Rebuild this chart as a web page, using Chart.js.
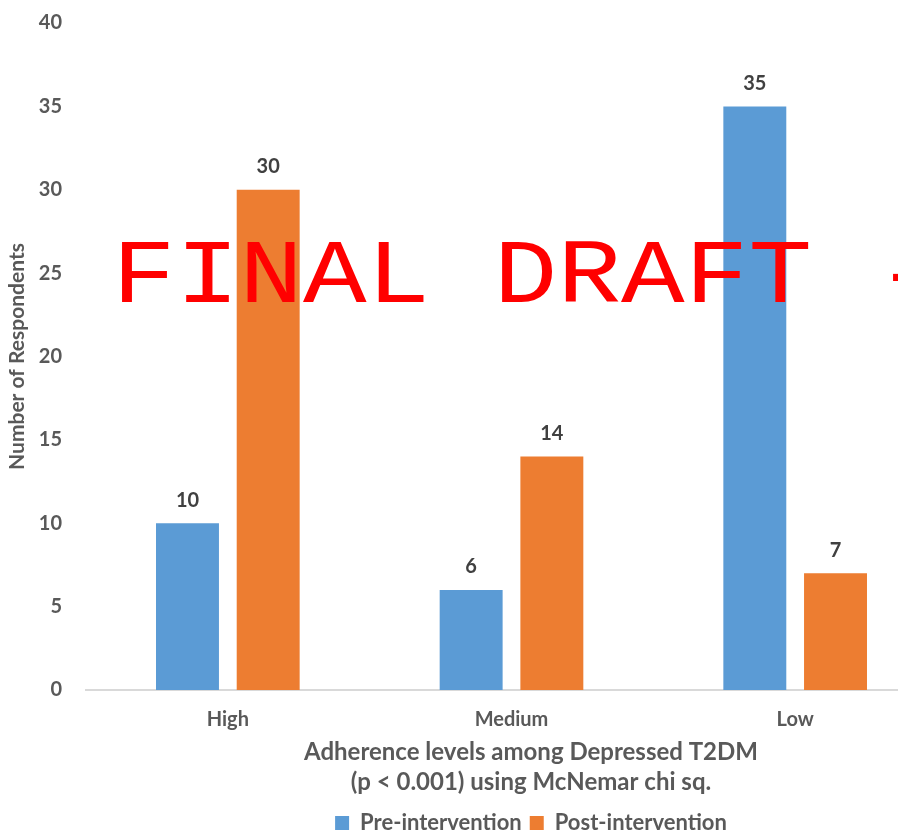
<!DOCTYPE html>
<html>
<head>
<meta charset="utf-8">
<script src="https://cdn.jsdelivr.net/npm/chart.js@4/dist/chart.umd.min.js"></script>
<style>
  html, body { margin: 0; padding: 0; background: #ffffff; overflow: hidden; }
  #wrap { position: relative; width: 1062px; height: 844px; }
</style>
</head>
<body>
<div id="wrap"><canvas id="chart"></canvas></div>
<script>
// Adherence levels, before and after the intervention
const categories = ['High', 'Medium', 'Low'];
const preIntervention = [10, 6, 35];
const postIntervention = [30, 14, 7];
const yTicks = [0, 5, 10, 15, 20, 25, 30, 35, 40];
const axisTitleLines = ['Adherence levels among Depressed T2DM', '(p < 0.001) using McNemar chi sq.'];
const yAxisTitle = 'Number of Respondents';
const watermarkText = 'FINAL DRAFT -';

const FONT = "Lato, 'Open Sans', sans-serif";
const GREY = '#595959';

// value labels above each bar
const valueLabels = {
  id: 'valueLabels',
  afterDatasetsDraw(chart) {
    const ctx = chart.ctx;
    ctx.save();
    ctx.font = `bold 20px ${FONT}`;
    ctx.fillStyle = '#404040';
    ctx.textAlign = 'center';
    ctx.textBaseline = 'middle';
    chart.data.datasets.forEach((ds, i) => {
      chart.getDatasetMeta(i).data.forEach((bar, j) => {
        ctx.fillText(String(ds.data[j]), bar.x, bar.y - 23);
      });
    });
    ctx.restore();
  }
};

// draft stamp across the plot
const watermark = {
  id: 'watermark',
  afterDraw(chart) {
    const ctx = chart.ctx;
    ctx.save();
    ctx.translate(112, 302);
    ctx.scale(1.01, 0.86);
    ctx.font = "105px 'Liberation Mono', 'DejaVu Sans Mono', monospace";
    ctx.fillStyle = '#ff0000';
    ctx.textAlign = 'left';
    ctx.textBaseline = 'alphabetic';
    ctx.fillText(watermarkText, 0, 0);
    ctx.restore();
  }
};

new Chart(document.getElementById('chart'), {
  type: 'bar',
  data: {
    labels: categories,
    datasets: [
      { label: 'Pre-intervention', data: preIntervention, backgroundColor: '#5B9BD5',
        categoryPercentage: 0.569, barPercentage: 0.78 },
      { label: 'Post-intervention', data: postIntervention, backgroundColor: '#ED7D31',
        categoryPercentage: 0.569, barPercentage: 0.78 }
    ]
  },
  options: {
    responsive: true,
    maintainAspectRatio: false,
    animation: false,
    layout: { padding: 0 },
    scales: {
      x: {
        grid: { display: false, drawTicks: false },
        border: { display: true, color: '#d9d9d9', width: 2 },
        ticks: { color: GREY, font: { family: FONT, size: 20, weight: 'bold' }, padding: 18 },
        afterFit(scale) { scale.height -= 13; }
      },
      y: {
        min: 0, max: 40,
        afterBuildTicks(scale) { scale.ticks = yTicks.map(v => ({ value: v })); },
        afterFit(scale) { scale.width = 86; scale.paddingTop = 23; scale.paddingBottom = 0; },
        grid: { display: false, drawTicks: false },
        border: { display: false },
        ticks: { color: GREY, font: { family: FONT, size: 20, weight: 'bold' }, padding: 24 },
        title: { display: true, text: yAxisTitle, color: GREY,
                 font: { family: FONT, size: 21, weight: 'bold' }, padding: { top: 5, bottom: 0 } }
      },
      // empty strip on the right side of the plot
      yRight: {
        position: 'right', min: 0, max: 40,
        afterFit(scale) { scale.width = 125; scale.paddingTop = 0; scale.paddingBottom = 0; },
        grid: { display: false, drawTicks: false },
        border: { display: false },
        ticks: { display: false }
      }
    },
    plugins: {
      title: {
        display: true, position: 'bottom', text: axisTitleLines, color: GREY,
        font: { family: FONT, size: 24, weight: 'bold', lineHeight: 1.25 },
        padding: { top: 0, bottom: 7 }, weight: 500
      },
      legend: {
        position: 'bottom', weight: 2000,
        labels: { color: GREY, boxWidth: 14, boxHeight: 14, padding: 8,
                  font: { family: FONT, size: 22, weight: 'bold' } }
      },
      tooltip: { enabled: false }
    }
  },
  plugins: [valueLabels, watermark]
});
</script>
</body>
</html>
